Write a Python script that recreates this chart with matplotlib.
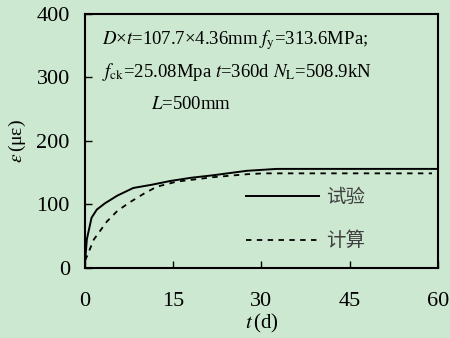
import matplotlib
matplotlib.use("Agg")
import matplotlib.pyplot as plt

plt.rcParams['font.family'] = ['Liberation Serif', 'Noto Sans CJK SC']
plt.rcParams['mathtext.fontset'] = 'stix'

# data
t_test = [0, 0.3, 1.1, 2.0, 3.4, 5.5, 8.2, 11.3, 14.5, 18, 21.8, 27.5, 32.6, 60]
eps_test = [8, 45, 79, 92, 102, 114, 126, 131, 137, 142, 146, 153, 156, 156]
t_calc = [0, 0.3, 1.5, 3.7, 5.5, 7.7, 10, 12.2, 15.6, 21.8, 27.5, 30.3, 59]
eps_calc = [12, 18, 45, 73, 90, 104, 117, 128, 136, 143, 147.6, 149, 149]

xticks = [0, 15, 30, 45, 60]
yticks = [0, 100, 200, 300, 400]
bg = '#cce8d0'

fig = plt.figure(figsize=(4.5, 3.38), dpi=100, facecolor=bg)
ax = fig.add_axes([0.189, 0.207, 0.784, 0.752], facecolor=bg)

ax.plot(t_test, eps_test, color='black', lw=1.4, label='试验')
ax.plot(t_calc, eps_calc, color='black', lw=1.3, linestyle=(0, (3, 3)), label='计算')

ax.set_xlim(0, 60)
ax.set_ylim(0, 400)
ax.set_xticks(xticks)
ax.set_yticks(yticks)
ax.tick_params(direction='in', length=5, width=1, labelsize=16)
ax.tick_params(axis='x', pad=17)
ax.tick_params(axis='y', pad=11)
for s in ax.spines.values():
    s.set_linewidth(1.5)

ax.set_xlabel(r'$t\,$(d)', fontsize=15, labelpad=1)
ax.set_ylabel(r'$\varepsilon\,$(με)', fontsize=14, labelpad=6)

fs = 13.5
ax.text(0.047, 0.895, r'$D$×$t$=107.7×4.36mm $f_{\mathrm{y}}$=313.6MPa;',
        transform=ax.transAxes, fontsize=fs, va='center')
ax.text(0.047, 0.772, r'$f_{\mathrm{ck}}$=25.08Mpa $t$=360d $N_{\mathrm{L}}$=508.9kN',
        transform=ax.transAxes, fontsize=fs, va='center')
ax.text(0.188, 0.645, r'$L$=500mm',
        transform=ax.transAxes, fontsize=fs, va='center')

leg = ax.legend(loc='upper left', bbox_to_anchor=(0.455, 0.319), frameon=False,
                borderpad=0, borderaxespad=0, handlelength=3.8, handletextpad=0.35,
                labelspacing=1.15, prop={'family': 'Noto Sans CJK SC', 'size': 14})
for txt in leg.get_texts():
    txt.set_color('#404040')

fig.savefig('out.png', dpi=100, facecolor=bg)
